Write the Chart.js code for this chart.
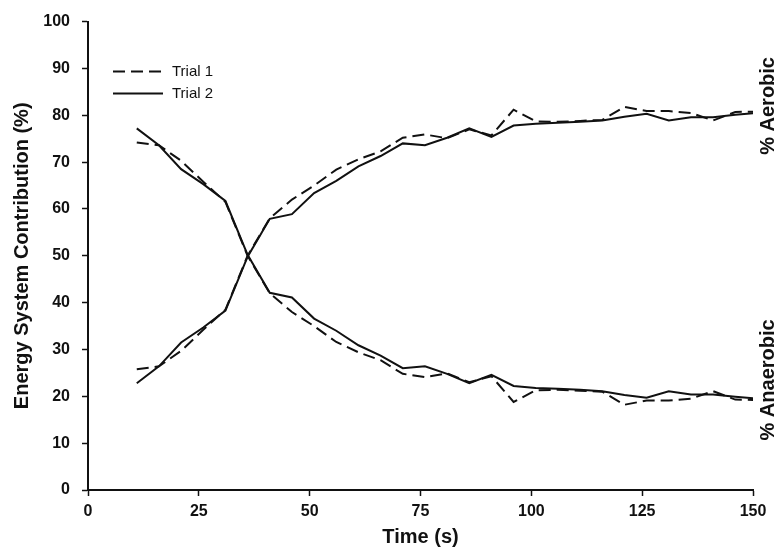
<!DOCTYPE html>
<html>
<head>
<meta charset="utf-8">
<script src="https://cdn.jsdelivr.net/npm/chart.js@4"></script>
<style>
  html, body { margin: 0; padding: 0; background: #fff; }
  #wrap { width: 779px; height: 553px; position: relative; }
</style>
</head>
<body>
<div id="wrap"><canvas id="chart"></canvas></div>
<script>
/* ---------- data ---------- */
const tempo = [11, 16, 21, 26, 31, 36, 41, 46, 51, 56, 61, 66, 71, 76, 81, 86, 91, 96, 101, 106, 111, 116, 121, 126, 131, 136, 141, 146, 151];

// Trial 1 (tracejado)
const trial1Aerobic   = [25.8, 26.4, 29.7, 34.2, 38.5, 50, 58, 62, 65, 68.4, 70.6, 72.3, 75.2, 75.9, 75.1, 77, 75.7, 81.2, 78.7, 78.6, 78.8, 79, 81.8, 80.9, 80.9, 80.5, 78.9, 80.7, 80.8];
const trial1Anaerobic = [74.2, 73.6, 70.3, 65.8, 61.5, 50, 42, 38, 35, 31.6, 29.4, 27.7, 24.8, 24.1, 24.9, 23, 24.3, 18.8, 21.3, 21.4, 21.2, 21, 18.2, 19.1, 19.1, 19.5, 21.1, 19.3, 19.2];

// Trial 2 (contínuo)
const trial2Aerobic   = [22.8, 26.4, 31.5, 34.7, 38.3, 49.8, 57.9, 58.9, 63.4, 66, 69.1, 71.3, 74, 73.6, 75.2, 77.2, 75.4, 77.8, 78.2, 78.4, 78.6, 78.9, 79.7, 80.3, 78.9, 79.6, 79.6, 80.1, 80.5];
const trial2Anaerobic = [77.2, 73.6, 68.5, 65.3, 61.7, 50.2, 42.1, 41.1, 36.6, 34, 30.9, 28.7, 26, 26.4, 24.8, 22.8, 24.6, 22.2, 21.8, 21.6, 21.4, 21.1, 20.3, 19.7, 21.1, 20.4, 20.4, 19.9, 19.5];

const legendLabels = ['Trial 1', 'Trial 2'];
const sideLabels = ['% Aerobic', '% Anaerobic'];

const FONT = "'Liberation Sans', Arial, sans-serif";
const INK = '#111';
const DASH = [12, 6];

function pontos(valores) {
  return valores.map((v, i) => ({ x: tempo[i], y: v }));
}

function serie(valores, dashed) {
  return {
    data: pontos(valores),
    borderColor: INK,
    borderWidth: 2,
    borderDash: dashed ? DASH : [],
    pointRadius: 0,
    tension: 0,
    fill: false
  };
}

/* ---------- legenda + rótulos laterais ---------- */
const decoracoes = {
  id: 'decoracoes',
  afterDraw(chart) {
    const { ctx, chartArea, scales } = chart;
    ctx.save();

    // legenda
    const lx = chartArea.left + 25;
    const ly = chartArea.top + 50;
    [true, false].forEach((dashed, i) => {
      const y = ly + i * 22;
      ctx.beginPath();
      ctx.setLineDash(dashed ? DASH : []);
      ctx.lineWidth = 2;
      ctx.strokeStyle = INK;
      ctx.moveTo(lx, y);
      ctx.lineTo(lx + 50, y);
      ctx.stroke();
      ctx.setLineDash([]);
      ctx.fillStyle = INK;
      ctx.font = `15px ${FONT}`;
      ctx.textAlign = 'left';
      ctx.textBaseline = 'middle';
      ctx.fillText(legendLabels[i], lx + 59, y);
    });

    // rótulos "% Aerobic" / "% Anaerobic"
    ctx.font = `bold 20px ${FONT}`;
    ctx.fillStyle = INK;
    ctx.textAlign = 'center';
    ctx.textBaseline = 'middle';
    const sx = chart.width - 11;
    [scales.y.getPixelForValue(82), scales.y.getPixelForValue(23.5)].forEach((yy, i) => {
      ctx.save();
      ctx.translate(sx, yy);
      ctx.rotate(-Math.PI / 2);
      ctx.fillText(sideLabels[i], 0, 0);
      ctx.restore();
    });

    ctx.restore();
  }
};

new Chart(document.getElementById('chart'), {
  type: 'line',
  data: {
    datasets: [
      serie(trial1Aerobic, true),
      serie(trial1Anaerobic, true),
      serie(trial2Aerobic, false),
      serie(trial2Anaerobic, false)
    ]
  },
  options: {
    responsive: true,
    maintainAspectRatio: false,
    animation: false,
    layout: { padding: { left: 0, right: 26, top: 20, bottom: 0 } },
    plugins: { legend: { display: false }, tooltip: { enabled: false } },
    scales: {
      x: {
        type: 'linear', min: 0, max: 150,
        ticks: { stepSize: 25, padding: 6, color: INK, font: { family: FONT, size: 16, weight: 'bold' } },
        grid: { display: true, drawOnChartArea: false, drawTicks: true, tickLength: 6, tickColor: INK, tickWidth: 1.5 },
        border: { display: true, color: INK, width: 2 },
        title: { display: true, text: 'Time (s)', color: INK, padding: { top: 4, bottom: 4 }, font: { family: FONT, size: 20, weight: 'bold' } },
        afterFit: (s) => { s.height = 63; }
      },
      y: {
        min: 0, max: 100,
        ticks: { stepSize: 10, padding: 12, color: INK, font: { family: FONT, size: 16, weight: 'bold' } },
        grid: { display: true, drawOnChartArea: false, drawTicks: true, tickLength: 6, tickColor: INK, tickWidth: 1.5 },
        border: { display: true, color: INK, width: 2 },
        title: { display: true, text: 'Energy System Contribution (%)', color: INK, padding: { top: 10, bottom: 4 }, font: { family: FONT, size: 20, weight: 'bold' } },
        afterFit: (s) => { s.width = 88; }
      }
    }
  },
  plugins: [decoracoes]
});
</script>
</body>
</html>
